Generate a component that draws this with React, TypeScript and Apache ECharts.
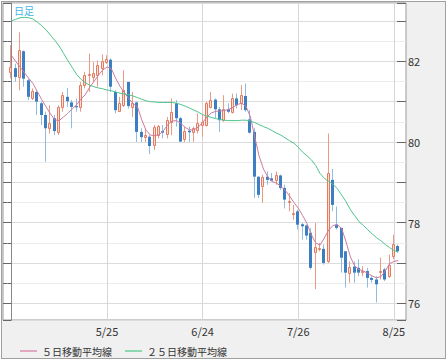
import React, { useEffect, useRef } from 'react';
import * as echarts from 'echarts';

const dates = [
  '4/25','4/26','4/27','4/28','4/29',
  '5/2','5/3','5/4','5/5','5/6','5/9','5/10','5/11','5/12','5/13','5/16','5/17','5/18','5/19','5/20','5/23','5/24','5/25','5/26','5/27','5/30','5/31',
  '6/1','6/2','6/3','6/6','6/7','6/8','6/9','6/10','6/13','6/14','6/15','6/16','6/17','6/20','6/21','6/22','6/23','6/24','6/27','6/28','6/29','6/30',
  '7/1','7/4','7/5','7/6','7/7','7/8','7/11','7/12','7/13','7/14','7/15','7/18','7/19','7/20','7/21','7/22','7/25','7/26','7/27','7/28','7/29',
  '8/1','8/2','8/3','8/4','8/5','8/8','8/9','8/10','8/11','8/12','8/15','8/16','8/17','8/18','8/19','8/22','8/23','8/24','8/25','8/26',
];

const opens = [
  81.73,81.83,81.61,82.25,81.53,81.08,81.24,80.96,80.67,80.34,
  80.59,80.25,80.87,81.12,80.98,80.89,80.87,81.41,81.66,81.61,
  81.65,81.83,81.98,82.04,81.24,80.77,80.91,81.49,80.87,80.98,
  80.25,80.12,80.13,79.93,80.17,80.27,80.21,80.50,80.96,80.59,
  80.07,80.28,80.25,80.30,80.42,80.42,80.87,81.05,80.81,80.54,
  80.81,80.75,81.08,80.96,81.14,80.56,80.25,79.14,78.90,79.14,
  79.10,79.06,79.17,78.86,78.51,78.22,78.28,77.96,77.93,77.75,
  77.28,77.36,77.35,77.04,79.06,77.95,77.87,77.29,76.76,76.91,
  76.88,76.79,76.80,76.63,76.59,76.79,76.84,76.67,77.17,77.42,
];
const closes = [
  81.85,81.61,82.27,81.57,81.12,81.27,81.00,80.67,80.34,80.46,
  80.27,80.87,81.16,81.01,80.87,80.86,81.42,81.67,81.68,81.72,
  81.92,82.00,82.05,81.37,80.79,80.96,81.28,80.89,80.96,80.25,
  80.12,80.17,79.90,80.38,80.40,80.23,80.54,80.75,80.59,80.01,
  80.27,80.24,80.34,80.46,80.50,80.96,81.04,80.81,80.54,80.83,
  80.75,81.08,80.91,81.16,80.79,80.23,79.14,78.69,79.14,79.06,
  79.04,79.19,78.86,78.57,78.53,78.25,77.95,77.91,77.68,76.88,
  77.40,77.38,77.00,79.23,78.44,77.87,77.13,76.76,76.91,76.76,
  76.76,76.81,76.63,76.58,76.47,76.81,76.59,76.96,77.46,77.29,
];
const lows = [
  81.58,81.49,81.28,81.37,81.04,81.04,80.67,80.42,79.51,80.21,
  80.17,80.17,80.75,80.87,80.34,80.75,80.75,81.33,81.24,81.49,
  81.37,81.65,81.94,81.24,80.71,80.75,80.87,80.83,80.62,80.00,
  80.00,80.00,79.70,79.80,80.09,80.09,80.09,80.17,80.38,80.00,
  80.00,80.00,80.00,80.21,80.13,80.38,80.83,80.59,80.25,80.50,
  80.71,80.71,80.83,80.79,80.75,80.21,78.61,78.61,78.49,78.94,
  79.02,78.94,78.81,78.35,78.28,78.07,77.83,77.58,77.58,76.84,
  76.35,77.29,76.96,77.00,78.28,77.83,76.76,76.39,76.51,76.51,
  76.67,76.67,76.39,76.51,76.02,76.59,76.55,76.63,77.09,77.25,
];
const highs = [
  82.40,81.94,82.72,82.27,81.57,81.33,81.28,81.00,80.75,80.91,
  80.67,80.91,81.24,81.34,81.04,81.08,81.49,81.74,82.19,81.98,
  82.02,82.17,82.15,82.07,81.28,81.12,81.78,81.49,81.24,81.00,
  80.34,80.34,80.17,80.42,80.42,80.42,80.62,81.08,81.04,80.62,
  80.38,80.38,80.38,80.71,80.67,81.00,81.24,81.08,80.87,81.16,
  80.96,81.20,81.20,81.41,81.45,80.79,80.34,79.14,79.19,79.27,
  79.23,79.27,79.19,78.94,78.73,78.44,78.32,77.99,77.95,77.87,
  77.99,77.50,77.46,80.21,79.33,78.40,77.87,77.29,77.04,77.04,
  77.09,76.92,76.88,76.67,76.67,77.13,76.88,77.21,77.70,77.46,
];
const ma5 = [
  82.15,82.00,81.86,81.72,81.58,81.45,81.25,81.05,80.87,80.70,
  80.55,80.53,80.62,80.71,80.82,80.92,81.06,81.17,81.35,81.50,
  81.65,81.78,81.86,81.82,81.58,81.38,81.22,81.08,80.95,80.88,
  80.55,80.29,80.17,80.16,80.18,80.28,80.43,80.52,80.53,80.46,
  80.36,80.30,80.30,80.37,80.48,80.62,80.72,80.76,80.77,80.78,
  80.81,80.86,80.93,80.96,80.88,80.62,80.12,79.65,79.33,79.13,
  79.02,78.98,78.90,78.80,78.66,78.50,78.36,78.18,77.98,77.70,
  77.50,77.44,77.62,77.82,77.93,77.95,77.85,77.52,77.15,76.92,
  76.84,76.80,76.74,76.68,76.63,76.66,76.80,76.98,77.04,77.06,
];
const ma25 = [
  83.00,83.04,83.08,83.09,83.08,83.05,82.97,82.88,82.78,82.65,
  82.52,82.38,82.20,82.02,81.85,81.68,81.56,81.47,81.41,81.37,
  81.34,81.32,81.29,81.27,81.24,81.21,81.19,81.17,81.14,81.10,
  81.06,81.02,81.00,80.99,80.98,80.98,80.98,80.98,80.96,80.93,
  80.89,80.84,80.79,80.74,80.68,80.64,80.61,80.58,80.56,80.54,
  80.53,80.53,80.53,80.54,80.54,80.52,80.48,80.43,80.38,80.34,
  80.28,80.22,80.17,80.10,80.03,79.97,79.87,79.75,79.66,79.56,
  79.42,79.22,79.10,79.02,78.95,78.84,78.68,78.52,78.32,78.17,
  78.02,77.93,77.82,77.72,77.63,77.55,77.46,77.38,77.31,77.27,
];

const gridIdx = [0, 22, 44, 66, 88];
const labelIdx = [22, 44, 66, 88];
const yLabels = [76, 78, 80, 82];
const seriesNames = ['５日移動平均線', '２５日移動平均線'];
const titleText = '日足';

const FONT = '"Noto Sans CJK JP", "Noto Sans", sans-serif';
const Y_MIN = 75.586;
const Y_MAX = 83.446;

export default function App() {
  const ref = useRef<HTMLDivElement>(null);
  useEffect(() => {
    document.body.style.margin = '0';
    const chart = echarts.init(ref.current as HTMLDivElement, null, { renderer: 'svg' });
    const candleData = dates.map((_, i) => [i, opens[i], closes[i], lows[i], highs[i]]);
    const baseY = {
      type: 'value',
      min: Y_MIN,
      max: Y_MAX,
      scale: true,
    };
    const option: any = {
      animation: false,
      textStyle: { fontFamily: FONT },
      grid: {
        left: 3, right: 42, top: 3, bottom: 43,
        show: true, backgroundColor: '#ffffff', borderColor: '#999999', borderWidth: 1,
      },
      xAxis: {
        type: 'value',
        min: -1.909,
        max: 90.78,
        axisLine: { show: false },
        axisTick: { show: false, customValues: gridIdx },
        splitLine: { show: true, lineStyle: { color: '#d6d6d6', width: 1 } },
        axisLabel: {
          customValues: labelIdx,
          formatter: (v: number) => dates[Math.round(v)] ?? '',
          color: '#333',
          fontSize: 11,
          margin: 5,
          fontFamily: FONT,
        },
      },
      yAxis: [
        {
          ...baseY, position: 'right', splitNumber: 16,
          axisLine: { show: true, lineStyle: { color: '#888888' } },
          axisTick: { show: true, inside: true, length: 4, lineStyle: { color: '#666' } },
          axisLabel: { show: false },
          splitLine: { show: true, lineStyle: { color: '#ececec' } },
        },
        {
          ...baseY, position: 'right', splitNumber: 8,
          axisLine: { show: false },
          axisTick: { show: true, inside: true, length: 9, lineStyle: { color: '#666' } },
          axisLabel: {
            show: true, margin: 2, color: '#333', fontSize: 11, fontFamily: FONT,
            formatter: (v: number) => {
              const r = Math.round(v);
              return Math.abs(v - r) < 1e-6 && yLabels.includes(r) ? String(r) : '';
            },
          },
          splitLine: { show: true, lineStyle: { color: '#dcdcdc' } },
        },
        {
          ...baseY, position: 'left', splitNumber: 16,
          axisLine: { show: false },
          axisTick: { show: true, inside: true, length: 4, lineStyle: { color: '#666' } },
          axisLabel: { show: false },
          splitLine: { show: false },
        },
        {
          ...baseY, position: 'left', splitNumber: 8,
          axisLine: { show: false },
          axisTick: { show: true, inside: true, length: 7, lineStyle: { color: '#666' } },
          axisLabel: { show: false },
          splitLine: { show: false },
        },
      ],
      legend: {
        left: 15,
        top: 341,
        icon: 'rect',
        itemWidth: 17,
        itemHeight: 2,
        itemGap: 13,
        selectedMode: false,
        textStyle: { fontSize: 10, color: '#333', fontFamily: FONT },
        data: [
          { name: seriesNames[0], itemStyle: { color: '#e0a9c0' }, textStyle: { width: 70 } },
          { name: seriesNames[1], itemStyle: { color: '#8ed8b0' }, textStyle: { width: 80 } },
        ],
      },
      graphic: [
        {
          type: 'text', left: 14, top: 5, z: 10,
          style: { text: titleText, fill: '#3fb6e8', fontSize: 10, fontFamily: FONT },
        },
      ],
      series: [
        {
          type: 'custom',
          name: 'candle',
          xAxisIndex: 0,
          yAxisIndex: 1,
          clip: true,
          encode: { x: 0, y: [1, 2, 3, 4] },
          data: candleData,
          renderItem: (params: any, api: any) => {
            const i = api.value(0);
            const o = api.value(1);
            const c = api.value(2);
            const l = api.value(3);
            const h = api.value(4);
            const pO = api.coord([i, o]);
            const pC = api.coord([i, c]);
            const pL = api.coord([i, l]);
            const pH = api.coord([i, h]);
            const cx = Math.round(pO[0]) - 0.5;
            const up = c >= o;
            const top = Math.min(pO[1], pC[1]);
            const bot = Math.max(pO[1], pC[1]);
            const wick = {
              type: 'line',
              shape: { x1: cx, y1: pH[1], x2: cx, y2: pL[1] },
              style: { stroke: up ? '#eb9a86' : '#8fbde2', lineWidth: 1 },
            };
            let body: any;
            if (up) {
              const t = Math.round(top) + 0.5;
              const b = Math.max(Math.round(bot) + 0.5, t + 1);
              body = {
                type: 'rect',
                shape: { x: cx - 1, y: t, width: 2, height: b - t },
                style: { fill: '#fbe0d8', stroke: '#e57a5e', lineWidth: 1 },
              };
            } else {
              body = {
                type: 'rect',
                shape: { x: cx - 1.5, y: top, width: 3, height: Math.max(bot - top, 1.2) },
                style: { fill: '#3b7fc2' },
              };
            }
            return { type: 'group', children: [wick, body] };
          },
          z: 2,
        },
        {
          type: 'line',
          name: seriesNames[0],
          xAxisIndex: 0,
          yAxisIndex: 1,
          data: ma5.map((v, i) => [i, v]),
          symbol: 'none',
          lineStyle: { color: '#cc7aa0', width: 1 },
          itemStyle: { color: '#cc7aa0' },
          z: 3,
        },
        {
          type: 'line',
          name: seriesNames[1],
          xAxisIndex: 0,
          yAxisIndex: 1,
          data: ma25.map((v, i) => [i, v]),
          symbol: 'none',
          lineStyle: { color: '#4fc48c', width: 1 },
          itemStyle: { color: '#4fc48c' },
          z: 3,
        },
      ],
    };
    chart.setOption(option);
    return () => chart.dispose();
  }, []);
  return (
    <div style={{ position: 'relative', width: 448, height: 363, background: '#ffffff' }}>
      <div
        style={{
          position: 'absolute', left: 1, top: 1, width: 445, height: 358,
          boxSizing: 'border-box', border: '1px solid #a0a0a0', background: '#f0f0f0',
        }}
      />
      <div ref={ref} style={{ position: 'absolute', left: 0, top: 0, width: 448, height: 363 }} />
    </div>
  );
}
